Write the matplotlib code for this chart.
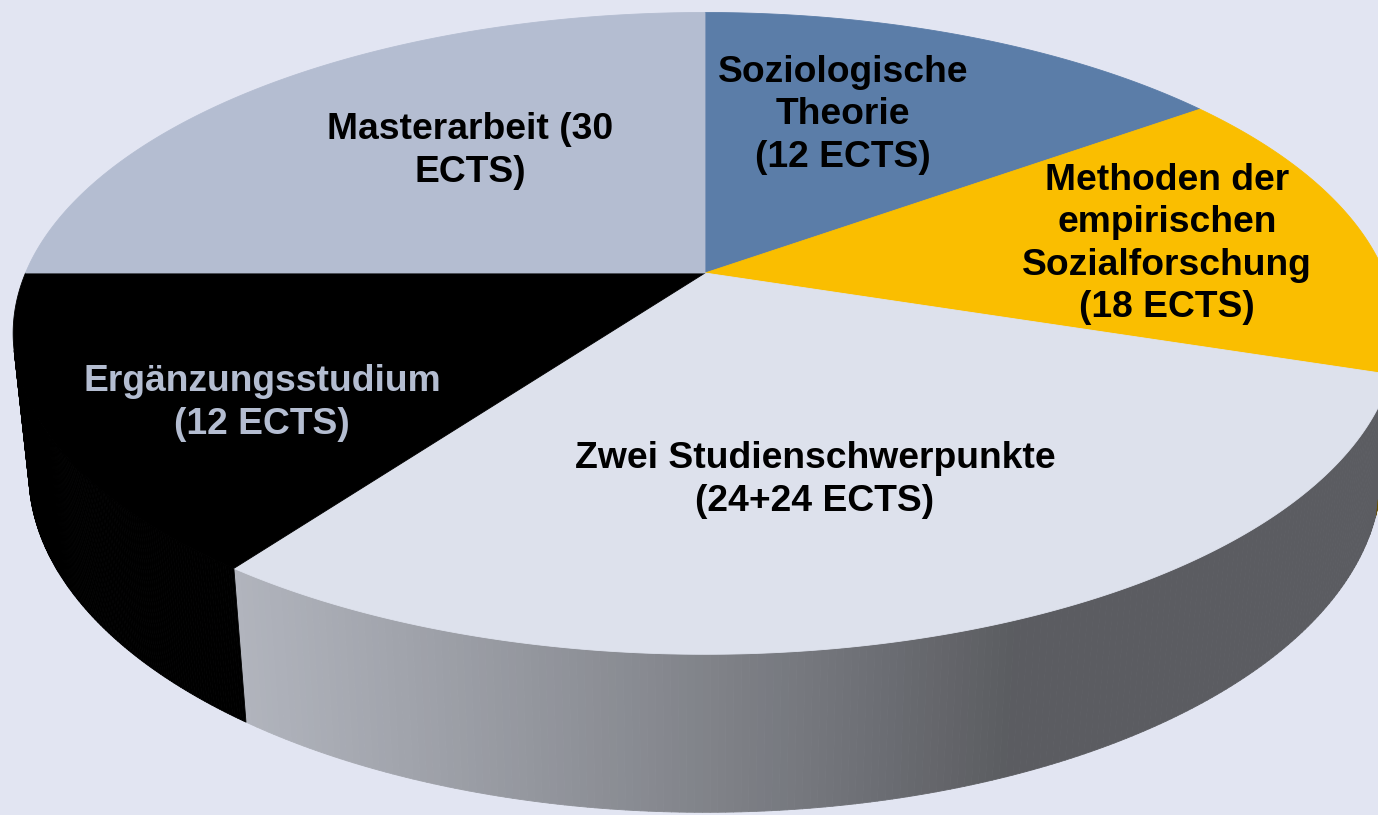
import numpy as np
import matplotlib.pyplot as plt
from matplotlib.collections import PolyCollection
from matplotlib.patches import Polygon

# slice shares as they appear in the picture (percent of the circle),
# drawn clockwise starting at 12 o'clock
slices = ["Soziologische Theorie", "Methoden der empirischen Sozialforschung",
          "Zwei Studienschwerpunkte", "Ergänzungsstudium", "Masterarbeit"]
shares = [15, 15, 30, 15, 25]
labels = ["Soziologische\nTheorie\n(12 ECTS)",
          "Methoden der\nempirischen\nSozialforschung\n(18 ECTS)",
          "Zwei Studienschwerpunkte\n(24+24 ECTS)",
          "Ergänzungsstudium\n(12 ECTS)",
          "Masterarbeit (30\nECTS)"]
colors = ["#5B7DA8", "#FABE00", "#DDE1EC", "#000000", "#B4BDD1"]
label_colors = ["black", "black", "black", "#B4BDD1", "black"]
label_xy = [(843, 115), (1167, 244), (815, 480), (262, 403), (470, 151)]

BG = "#E2E5F2"

# simple perspective camera looking down on a unit-radius pie
ELEV = np.radians(27.1)
DIST = 4.73
FOCAL = 3214
CX, CY = 705, 273
HEIGHT = 0.232
LIGHT = np.radians(202)


def project(x, y, z):
    s, c = np.sin(ELEV), np.cos(ELEV)
    w = y * c - z * s + DIST
    return CX + FOCAL * x / w, CY - FOCAL * (y * s + z * c) / w


def rgb(hexcol):
    h = hexcol.lstrip("#")
    return np.array([int(h[i:i + 2], 16) / 255 for i in (0, 2, 4)])


fig = plt.figure(figsize=(13.78, 8.15), dpi=100)
fig.patch.set_facecolor(BG)
ax = fig.add_axes([0, 0, 1, 1])
ax.set_xlim(0, 1378)
ax.set_ylim(815, 0)
ax.axis("off")
ax.set_facecolor(BG)

bounds = 90 - 360 * np.concatenate([[0], np.cumsum(shares)]) / sum(shares)
limit = -1 / (DIST * np.cos(ELEV))  # wall faces the camera where sin(theta) < limit

# outer walls
for i in range(len(shares)):
    th = np.radians(np.linspace(bounds[i], bounds[i + 1], 200))
    quads, cols = [], []
    for a, b in zip(th[:-1], th[1:]):
        m = (a + b) / 2
        if np.sin(m) >= limit:
            continue
        xs = np.cos([a, b, b, a])
        ys = np.sin([a, b, b, a])
        zs = np.array([0, 0, -HEIGHT, -HEIGHT])
        px, py = project(xs, ys, zs)
        quads.append(np.column_stack([px, py]))
        f = 0.41 + 0.46 * max(0.0, np.cos(m - LIGHT))
        cols.append(np.clip(rgb(colors[i]) * f, 0, 1))
    if quads:
        ax.add_collection(PolyCollection(quads, facecolors=cols, edgecolors=cols,
                                         linewidths=0.6, zorder=1))

# top faces
for i in range(len(shares)):
    th = np.radians(np.linspace(bounds[i], bounds[i + 1], 200))
    px, py = project(np.cos(th), np.sin(th), np.zeros_like(th))
    cx0, cy0 = project(0.0, 0.0, 0.0)
    pts = np.column_stack([np.r_[cx0, px], np.r_[cy0, py]])
    ax.add_patch(Polygon(pts, closed=True, facecolor=colors[i], edgecolor=colors[i],
                         linewidth=0.6, zorder=2))

for text, (x, y), col in zip(labels, label_xy, label_colors):
    ax.text(x, y, text, ha="center", va="center", multialignment="center",
            fontsize=26.8, fontweight="bold", family="Liberation Sans",
            color=col, linespacing=1.28, zorder=3)

fig.savefig("out.png", dpi=100, facecolor=BG)
